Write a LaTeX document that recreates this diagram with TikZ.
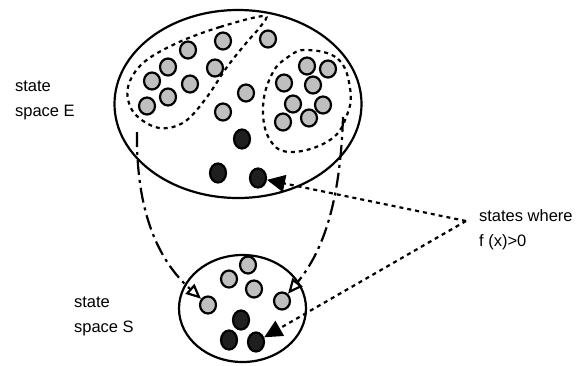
\documentclass[tikz,border=0pt]{standalone}
\usepackage{fontspec}
\setmainfont{Liberation Sans}
\usetikzlibrary{shapes.geometric,arrows.meta}

\begin{document}
\begin{tikzpicture}[x=1pt,y=-1pt,line width=2.2pt,
  space/.style={draw,ellipse,inner sep=0pt},
  grey state/.style={draw,ellipse,fill=black!25,inner sep=0pt,minimum width=16pt,minimum height=17pt},
  dark state/.style={draw,ellipse,fill=black!88,inner sep=0pt,minimum width=16pt,minimum height=19pt},
  spacetext/.style={font=\fontsize{16.5}{25}\selectfont,align=left,anchor=base west,inner sep=0pt},
  map/.style={dash pattern=on 15pt off 5pt on 3pt off 5pt,-{Triangle[open,length=15pt,width=13pt]}},
  hint/.style={dash pattern=on 4pt off 4pt,-{Triangle[length=18pt,width=17pt]}}]
\useasboundingbox (0,0) rectangle (583,365);

% the two state spaces
\node[space,minimum width=247pt,minimum height=188pt] (E) at (238,104) {};
\node[space,minimum width=127pt,minimum height=107pt] (S) at (242.5,308.5) {};

% dashed groups inside E
\draw[dash pattern=on 4pt off 4pt] plot[smooth cycle,tension=0.6] coordinates {(264,16) (220,27) (177,43) (143,63) (128,87) (132,110) (150,125) (168,128) (187,120) (207,97) (227,67) (247,42) (260,27)};
\draw[dash pattern=on 4pt off 4pt] plot[smooth cycle,tension=0.7] coordinates {(307,50) (338,59) (350,88) (347,115) (330,140) (292,152) (270,140) (263,107) (272,74) (288,57)};

% states of E
\node[grey state] (e1) at (223,41) {};
\node[grey state] (e2) at (188,50) {};
\node[grey state] (e3) at (168,67) {};
\node[grey state] (e4) at (215,68) {};
\node[grey state] (e5) at (152,81) {};
\node[grey state] (e6) at (190,84) {};
\node[grey state] (e7) at (168,97) {};
\node[grey state] (e8) at (147,106) {};
\node[grey state] (e9) at (268,39) {};
\node[grey state] (e10) at (246,93) {};
\node[grey state] (e11) at (223,112) {};
\node[grey state] (e12) at (307,66) {};
\node[grey state] (e13) at (328,69) {};
\node[grey state] (e14) at (284,83) {};
\node[grey state] (e15) at (313,85) {};
\node[grey state] (e16) at (293,104) {};
\node[grey state] (e17) at (323,105) {};
\node[grey state] (e18) at (283,122) {};
\node[grey state] (e19) at (309,118) {};
\node[dark state] (d1) at (242,139) {};
\node[dark state] (d2) at (218,173) {};
\node[dark state] (d3) at (258,178) {};

% states of S
\node[grey state] (s1) at (248,265) {};
\node[grey state] (s2) at (229,279) {};
\node[grey state] (s3) at (254,289) {};
\node[grey state] (s4) at (208,305) {};
\node[grey state] (s5) at (282,301) {};
\node[dark state] (t1) at (241,320) {};
\node[dark state] (t2) at (229,340) {};
\node[dark state] (t3) at (256,342) {};

% labels
\node[spacetext] (lE) at (14,116) {state\\space E};
\node[spacetext] (lS) at (73,332) {state\\space S};
\node[spacetext] (lf) at (478,246) {states where\\f (x)>0};

% connectors
\coordinate (mapL) at (137,132);
\coordinate (mapR) at (343,117);
\coordinate (fx) at (466,221);
\draw[map] (mapL) .. controls (136,215) and (160,262) .. (s4);
\draw[map] (mapR) .. controls (340,210) and (320,255) .. (s5);
\draw[hint] (fx) -- (d3);
\draw[hint] (fx) -- (t3);
\end{tikzpicture}
\end{document}
